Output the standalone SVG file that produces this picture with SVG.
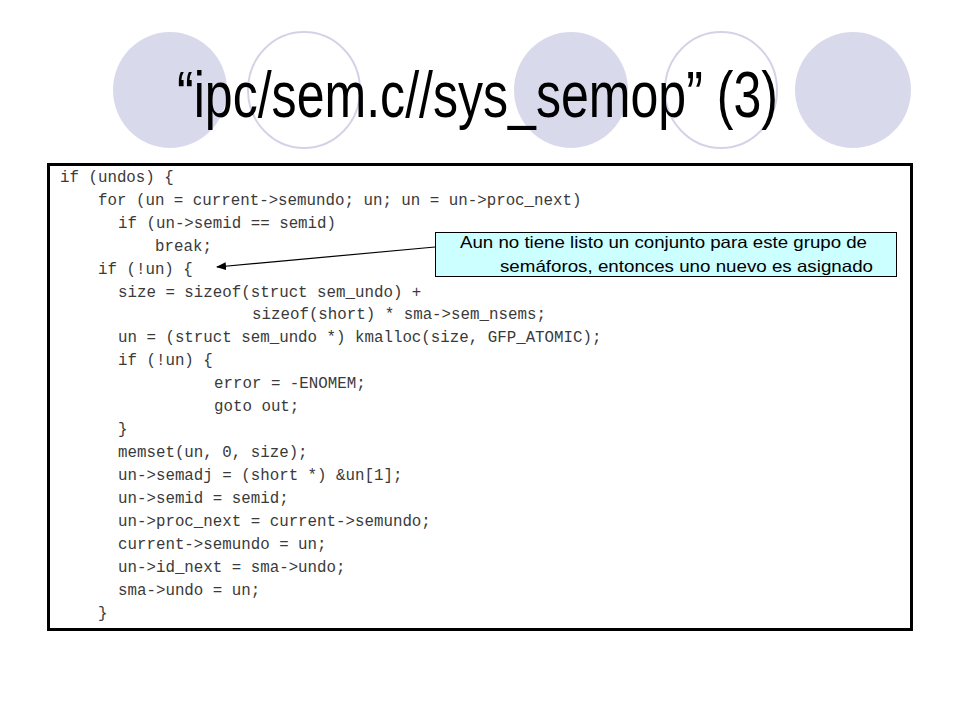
<svg xmlns="http://www.w3.org/2000/svg" width="960" height="720" viewBox="0 0 960 720">
<style>
.fill{fill:#d9d9ec;stroke:none}
.ring{fill:none;stroke:#d3d3e8;stroke-width:2}
.title{font-family:"Liberation Sans",Arial,sans-serif;font-size:64px;fill:#000}
.code{font-family:"Liberation Mono","Courier New",monospace;font-size:15.8px;fill:#3a3a3a}
.note{font-family:"Liberation Sans",Arial,sans-serif;font-size:16.5px;fill:#000}
</style>
<defs>
<marker id="ah" markerWidth="10" markerHeight="8" refX="9" refY="4" orient="auto" markerUnits="userSpaceOnUse">
<path d="M0,0 L10,4 L0,8 Z" fill="#000"/>
</marker>
</defs>
<rect width="960" height="720" fill="#fff"/>
<g id="decor">
<ellipse class="fill" cx="170" cy="90" rx="57" ry="58"/>
<ellipse class="ring" cx="304" cy="90" rx="56" ry="58"/>
<ellipse class="fill" cx="571" cy="90" rx="57" ry="58"/>
<ellipse class="ring" cx="721" cy="90" rx="56" ry="58"/>
<ellipse class="fill" cx="853" cy="90" rx="58" ry="58"/>
</g>
<g id="title">
<text class="title" x="177" y="117" textLength="601" lengthAdjust="spacingAndGlyphs">“ipc/sem.c//sys_semop” (3)</text>
</g>
<g id="code">
<rect x="48.5" y="164.5" width="863" height="465" fill="#fff" stroke="#000" stroke-width="3"/>
<text class="code" x="60" y="182">if (undos) {</text>
<text class="code" x="98" y="205">for (un = current-&gt;semundo; un; un = un-&gt;proc_next)</text>
<text class="code" x="118" y="228">if (un-&gt;semid == semid)</text>
<text class="code" x="155" y="251">break;</text>
<text class="code" x="98" y="274">if (!un) {</text>
<text class="code" x="118" y="297">size = sizeof(struct sem_undo) +</text>
<text class="code" x="252" y="319">sizeof(short) * sma-&gt;sem_nsems;</text>
<text class="code" x="118" y="342">un = (struct sem_undo *) kmalloc(size, GFP_ATOMIC);</text>
<text class="code" x="118" y="365">if (!un) {</text>
<text class="code" x="214" y="388">error = -ENOMEM;</text>
<text class="code" x="214" y="411">goto out;</text>
<text class="code" x="118" y="434">}</text>
<text class="code" x="118" y="457">memset(un, 0, size);</text>
<text class="code" x="118" y="480">un-&gt;semadj = (short *) &amp;un[1];</text>
<text class="code" x="118" y="503">un-&gt;semid = semid;</text>
<text class="code" x="118" y="526">un-&gt;proc_next = current-&gt;semundo;</text>
<text class="code" x="118" y="549">current-&gt;semundo = un;</text>
<text class="code" x="118" y="572">un-&gt;id_next = sma-&gt;undo;</text>
<text class="code" x="118" y="595">sma-&gt;undo = un;</text>
<text class="code" x="98" y="618">}</text>
</g>
<g id="connectors">
<line x1="435" y1="247" x2="217" y2="267" stroke="#000" stroke-width="1.2" marker-end="url(#ah)"/>
</g>
<g id="callout">
<rect x="435.5" y="232.5" width="461" height="44" fill="#ccffff" stroke="#000" stroke-width="1"/>
<text class="note" x="460" y="248" textLength="407" lengthAdjust="spacingAndGlyphs">Aun no tiene listo un conjunto para este grupo de</text>
<text class="note" x="500" y="272" textLength="373" lengthAdjust="spacingAndGlyphs">semáforos, entonces uno nuevo es asignado</text>
</g>
</svg>
